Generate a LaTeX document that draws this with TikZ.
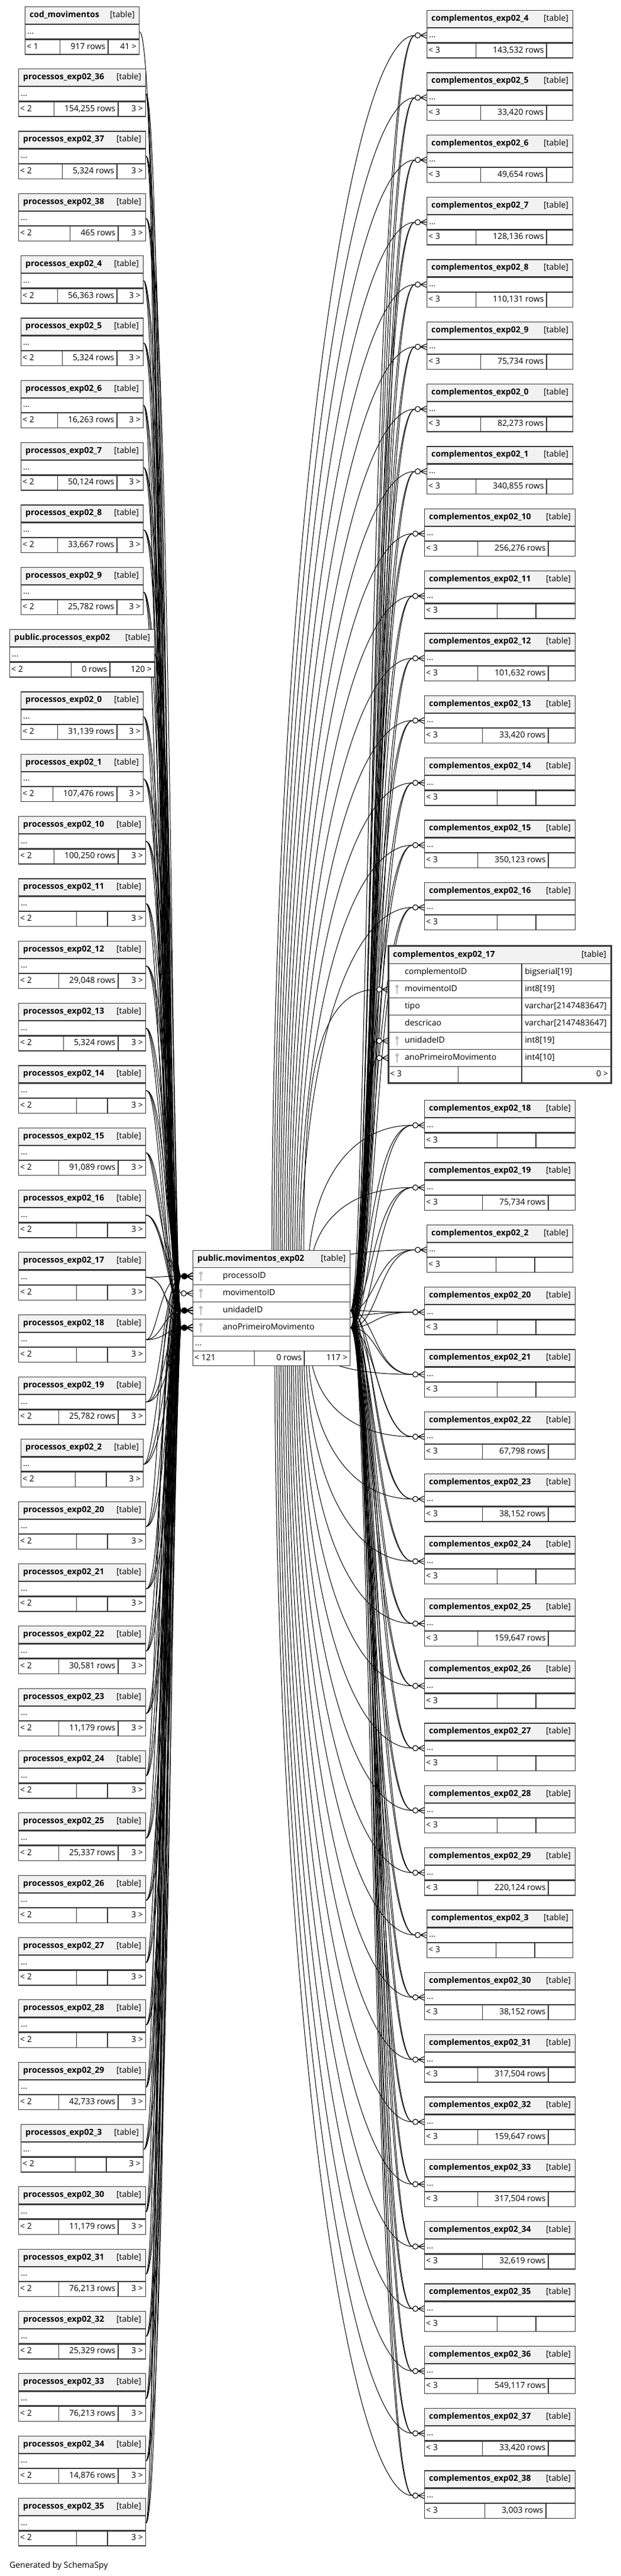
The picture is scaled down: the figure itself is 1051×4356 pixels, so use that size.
\documentclass[tikz,border=0pt]{standalone}
\usepackage{fontspec}
\setmainfont{Open Sans}
\usetikzlibrary{backgrounds}
\definecolor{tabline}{HTML}{3A3A3A}
\definecolor{headgray}{HTML}{F2F2F2}
\definecolor{keygray}{HTML}{BDBDBD}
\newcommand{\midpad}{14pt}
\newcommand{\midmin}{52pt}
\tikzset{%
	tabbox/.style  = {draw=tabline, line width=1.2pt, fill=white, anchor=north west, inner sep=0pt, minimum height=24pt, font=\fontsize{14}{16}\selectfont, text height=10pt, text depth=3pt},
	hdr/.style     = {tabbox, fill=headgray, minimum height=29pt}, % title row
	fcell/.style   = {tabbox, anchor=north east, minimum height=25pt}, % footer cell
	midcell/.style = {fcell, inner xsep=4pt, minimum width=\midmin, execute at begin node={\hspace*{\midpad}}}, % row count
	txt/.style     = {inner sep=0pt, font=\fontsize{14}{16}\selectfont, text height=10pt, text depth=3pt},
	ttl/.style     = {txt, font=\fontsize{14}{16}\selectfont\bfseries},
	rel/.style     = {draw=black, line width=1pt}, % relation
	keyicon/.pic   = {\fill[keygray] (0,-5) circle[radius=3pt]; \draw[keygray, line width=2pt] (0,-5) -- (0,8);},
	crow/.pic      = {\draw[line width=1.1pt] (-10.5,0) -- (0,-5) (-10.5,0) -- (0,0) (-10.5,0) -- (0,5); \draw[line width=1.1pt, fill=white] (-15,0) circle[radius=4.5pt];},
	crowfill/.pic  = {\draw[line width=1.8pt] (-10.5,0) -- (0,-6) (-10.5,0) -- (0,0) (-10.5,0) -- (0,6); \fill (-14,0) circle[radius=5.5pt];},
}
% collapsed table: title, "..." row, footer
\newcommand{\schemaTab}[9]{%
	\node[hdr, minimum width=#4pt] (#1) at (#2,#3) {};
	\node[ttl, anchor=west] (#1-t) at ([xshift=8pt]#1.west) {#5};
	\node[txt, anchor=east] (#1-k) at ([xshift=-8pt]#1.east) {[table]};
	\node[tabbox, minimum width=#4pt] (#1-d) at (#1.south west) {};
	\node[txt, anchor=west] (#1-dt) at ([xshift=4pt]#1-d.west) {...};
	\node[tabbox, minimum width=#4pt, minimum height=25pt] (#1-f) at (#1-d.south west) {};
	\node[txt, anchor=west] (#1-fl) at ([xshift=3pt]#1-f.west) {#7};
	\node[fcell, minimum width=#9pt] (#1-fr) at (#1-f.north east) {};
	\node[txt, anchor=east] (#1-frt) at ([xshift=-5pt]#1-fr.east) {#8};
	\node[midcell] (#1-fm) at (#1-fr.north west) {#6};
}
% three relations from movimentos_exp02 to one complementos table
\newcommand{\compEdges}[3]{%
	\pgfmathsetmacro\rxa{622+mod(7*#2,15)}
	\pgfmathsetmacro\rxb{626+mod(5*#2,13)}
	\pgfmathsetmacro\rxc{\rxa+6}
	\pgfmathsetmacro\rxd{\rxb+5}
	\ifdim#3pt<2200pt
		\def\src{mv-pid}\pgfmathsetmacro\dd{2157.5-#3}\pgfmathsetmacro\cy{2157.5-0.55*\dd}
	\else
		\def\src{mv-dots}\pgfmathsetmacro\dd{abs(#3-2271.5)}\pgfmathsetmacro\cy{2271.5+0.55*(#3-2271.5)}
	\fi
	\pgfmathsetmacro\xs{530-min(\dd,2100)/30}
	\begin{scope}[on background layer]
		\draw[rel] (mv-uid.east) .. controls (\rxa,0 |- mv-uid.east) and (\rxb,0 |- #1-d.west) .. ([xshift=-19.5pt]#1-d.west);
		\draw[rel] (mv-ano.east) .. controls (\rxc,0 |- mv-ano.east) and (\rxd,0 |- #1-d.west) .. ([xshift=-19.5pt]#1-d.west);
		\draw[rel] (\xs,0 |- \src.center) .. controls (\xs,\cy) and (583,0 |- #1-d.west) .. ([xshift=-19.5pt]#1-d.west);
	\end{scope}
	\pic at (#1-d.west) {crow};
}
\begin{document}
\begin{tikzpicture}[x=1pt, y=-1pt]
	\useasboundingbox (0,0) rectangle (1051,4356);

	% central table
	\node[hdr, minimum width=266pt] (mv) at (326,2114) {};
	\node[ttl, anchor=west] (mv-t) at ([xshift=8pt]mv.west) {public.movimentos\_exp02};
	\node[txt, anchor=east] (mv-k) at ([xshift=-8pt]mv.east) {[table]};
	\foreach \r/\lab [count=\k from 0] in {pid/processoID, mid/movimentoID, uid/unidadeID, ano/anoPrimeiroMovimento}{
		\node[tabbox, minimum width=266pt, minimum height=29pt] (mv-\r) at (326,2143+29*\k) {};
		\node[txt, anchor=west] (mv-\r-t) at ([xshift=51pt]mv-\r.west) {\lab};
		\pic at ([xshift=14pt]mv-\r.west) {keyicon};
	}
	\node[tabbox, minimum width=266pt, minimum height=25pt] (mv-dots) at (326,2259) {};
	\node[txt, anchor=west] (mv-dt) at ([xshift=4pt]mv-dots.west) {...};
	\node[tabbox, minimum width=266pt, minimum height=25pt] (mv-f) at (326,2284) {};
	\node[txt, anchor=west] (mv-fl) at ([xshift=3pt]mv-f.west) {< 121};
	\node[fcell, minimum width=77pt] (mv-fr) at (mv-f.north east) {};
	\node[txt, anchor=east] (mv-frt) at ([xshift=-5pt]mv-fr.east) {117 >};
	\node[fcell, minimum width=84pt] (mv-fm) at (mv-fr.north west) {};
	\node[txt, anchor=east] (mv-fmt) at ([xshift=-4pt]mv-fm.east) {0 rows};

	% parents on the left
	\schemaTab{cm}{42}{11}{193}{cod\_movimentos}{917 rows}{< 1}{41 >}{52}
	\begin{scope}[on background layer]
		\draw[rel] (cm-d.east) .. controls (274,0 |- cm-d.east) and (268,0 |- mv-mid.west) .. ([xshift=-19.5pt]mv-mid.west);
	\end{scope}
	\schemaTab{ppub}{16}{1064}{245}{public.processos\_exp02}{0 rows}{< 2}{120 >}{75}
	\begin{scope}[on background layer]
		\draw[rel] (ppub-d.east) .. controls (280,0 |- ppub-d.east) and (272,0 |- mv-pid.west) .. ([xshift=-19.5pt]mv-pid.west);
		\draw[rel] (ppub-d.east) .. controls (286,0 |- ppub-d.east) and (281,0 |- mv-uid.west) .. ([xshift=-19.5pt]mv-uid.west);
		\draw[rel] (ppub-d.east) .. controls (292,0 |- ppub-d.east) and (288,0 |- mv-ano.west) .. ([xshift=-19.5pt]mv-ano.west);
	\end{scope}
	\foreach \s/\n/\xa/\tw/\rws/\rwd in {
		0/36/31/215/{154,255 rows}/46, 1/37/31/215/{5,324 rows}/48, 2/38/31/215/{465 rows}/46,
		3/4/35/207/{56,363 rows}/44, 4/5/35/207/{5,324 rows}/44, 5/6/35/207/{16,263 rows}/44,
		6/7/35/207/{50,124 rows}/44, 7/8/35/207/{33,667 rows}/44, 8/9/35/207/{25,782 rows}/44,
		10/0/35/207/{31,139 rows}/44, 11/1/35/207/{107,476 rows}/44, 12/10/31/215/{100,250 rows}/46,
		13/11/31/215/{}/64, 14/12/31/215/{29,048 rows}/46, 15/13/31/215/{5,324 rows}/46,
		16/14/31/215/{}/64, 17/15/31/215/{91,089 rows}/46, 18/16/31/215/{}/64,
		19/17/31/215/{}/64, 20/18/31/215/{}/64, 21/19/31/215/{25,782 rows}/46,
		22/2/35/207/{}/62, 23/20/31/215/{}/64, 24/21/31/215/{}/64,
		25/22/31/215/{30,581 rows}/46, 26/23/31/215/{11,179 rows}/46, 27/24/31/215/{}/64,
		28/25/31/215/{25,337 rows}/46, 29/26/31/215/{}/64, 30/27/31/215/{}/64,
		31/28/31/215/{}/64, 32/29/31/215/{42,733 rows}/46, 33/3/35/207/{}/62,
		34/30/31/215/{11,179 rows}/46, 35/31/31/215/{76,213 rows}/46, 36/32/31/215/{25,329 rows}/46,
		37/33/31/215/{76,213 rows}/46, 38/34/31/215/{14,876 rows}/46, 39/35/31/215/{}/64}{
		\pgfmathsetmacro\ty{116+105.33*\s}
		\schemaTab{p\n}{\xa}{\ty}{\tw}{processos\_exp02\_\n}{\rws}{< 2}{3 >}{\rwd}
		\pgfmathsetmacro\bxa{262+mod(7*\s,17)}
		\pgfmathsetmacro\bxb{266+mod(5*\s,19)}
		\pgfmathsetmacro\bxc{\bxa+7}
		\pgfmathsetmacro\bxd{\bxb+8}
		\pgfmathsetmacro\bxe{\bxa+13}
		\pgfmathsetmacro\bxf{\bxb+15}
		\begin{scope}[on background layer]
			\draw[rel] (p\n-d.east) .. controls (\bxa,0 |- p\n-d.east) and (\bxb,0 |- mv-pid.west) .. ([xshift=-19.5pt]mv-pid.west);
			\draw[rel] (p\n-d.east) .. controls (\bxc,0 |- p\n-d.east) and (\bxd,0 |- mv-uid.west) .. ([xshift=-19.5pt]mv-uid.west);
			\draw[rel] (p\n-d.east) .. controls (\bxe,0 |- p\n-d.east) and (\bxf,0 |- mv-ano.west) .. ([xshift=-19.5pt]mv-ano.west);
		\end{scope}
	}
	\pic at (mv-pid.west) {crowfill};
	\pic at (mv-uid.west) {crowfill};
	\pic at (mv-ano.west) {crowfill};
	\pic at (mv-mid.west) {crow};

	% children on the right
	\begin{scope}
		\renewcommand{\midpad}{25pt}\renewcommand{\midmin}{65pt}
		\foreach \s/\n/\xa/\tw/\rws/\rwd in {
			0/4/722/247/{143,532 rows}/44, 1/5/722/247/{33,420 rows}/44, 2/6/722/247/{49,654 rows}/44,
			3/7/722/247/{128,136 rows}/44, 4/8/722/247/{110,131 rows}/44, 5/9/722/247/{75,734 rows}/44,
			6/0/722/247/{82,273 rows}/44, 7/1/722/247/{340,855 rows}/44, 8/10/718/255/{256,276 rows}/45,
			9/11/718/255/{}/66, 10/12/718/255/{101,632 rows}/45, 11/13/718/255/{33,420 rows}/45,
			12/14/718/255/{}/66, 13/15/718/255/{350,123 rows}/45, 14/16/718/255/{}/66}{
			\pgfmathsetmacro\ty{17+105.33*\s}
			\pgfmathsetmacro\yd{\ty+41}
			\schemaTab{c\n}{\xa}{\ty}{\tw}{complementos\_exp02\_\n}{\rws}{< 3}{}{\rwd}
			\compEdges{c\n}{\s}{\yd}
		}
		\foreach \s/\n/\xa/\tw/\rws/\rwd in {
			0/18/718/255/{}/66, 1/19/718/255/{75,734 rows}/45, 2/2/722/247/{}/64,
			3/20/718/255/{}/66, 4/21/718/255/{}/66, 5/22/718/255/{67,798 rows}/45,
			6/23/718/255/{38,152 rows}/45, 7/24/718/255/{}/66, 8/25/718/255/{159,647 rows}/45,
			9/26/718/255/{}/66, 10/27/718/255/{}/66, 11/28/718/255/{}/66,
			12/29/718/255/{220,124 rows}/45, 13/3/722/247/{}/64, 14/30/718/255/{38,152 rows}/45,
			15/31/718/255/{317,504 rows}/45, 16/32/718/255/{159,647 rows}/45, 17/33/718/255/{317,504 rows}/45,
			18/34/718/255/{32,619 rows}/45, 19/35/718/255/{}/66, 20/36/718/255/{549,117 rows}/45,
			21/37/718/255/{33,420 rows}/45, 22/38/718/255/{3,003 rows}/49}{
			\pgfmathsetmacro\ty{1860+105.33*\s}
			\pgfmathsetmacro\yd{\ty+41}
			\schemaTab{c\n}{\xa}{\ty}{\tw}{complementos\_exp02\_\n}{\rws}{< 3}{}{\rwd}
			\compEdges{c\n}{\s}{\yd}
		}
	\end{scope}

	% expanded child table
	\node[hdr, minimum width=376pt, minimum height=30pt] (c17) at (657,1599) {};
	\node[ttl, anchor=west] (c17-t) at ([xshift=8pt]c17.west) {complementos\_exp02\_17};
	\node[txt, anchor=east] (c17-k) at ([xshift=-8pt]c17.east) {[table]};
	\foreach \r/\lab/\typ/\key [count=\k from 0] in {r1/complementoID/{bigserial[19]}/0, r2/movimentoID/{int8[19]}/1,
		r3/tipo/{varchar[2147483647]}/0, r4/descricao/{varchar[2147483647]}/0,
		r5/unidadeID/{int8[19]}/1, r6/anoPrimeiroMovimento/{int4[10]}/1}{
		\node[tabbox, minimum width=225pt, minimum height=29pt] (c17-\r) at (657,1629+29*\k) {};
		\node[tabbox, minimum width=151pt, minimum height=29pt] (c17-\r-ty) at (c17-\r.north east) {};
		\node[txt, anchor=west] (c17-\r-t) at ([xshift=28pt]c17-\r.west) {\lab};
		\node[txt, anchor=west] (c17-\r-tt) at ([xshift=5pt]c17-\r-ty.west) {\typ};
		\ifnum\key=1 \pic at ([xshift=15pt]c17-\r.west) {keyicon}; \fi
	}
	\node[tabbox, minimum width=376pt, minimum height=27pt] (c17-f) at (657,1803) {};
	\node[txt, anchor=west] (c17-fl) at ([xshift=3pt]c17-f.west) {< 3};
	\node[fcell, minimum width=150pt, minimum height=27pt] (c17-fr) at (c17-f.north east) {};
	\node[txt, anchor=east] (c17-frt) at ([xshift=-5pt]c17-fr.east) {0 >};
	\node[fcell, minimum width=107pt, minimum height=27pt] (c17-fm) at (c17-fr.north west) {};
	\draw[tabline, line width=3pt] (c17.north west) rectangle (c17-f.south east);
	\begin{scope}[on background layer]
		\draw[rel] (514,0 |- mv-pid.center) .. controls (514,1891) and (518,0 |- c17-r2.west) .. ([xshift=-19.5pt]c17-r2.west);
		\draw[rel] (mv-uid.east) .. controls (628,0 |- mv-uid.east) and (612,0 |- c17-r5.west) .. ([xshift=-19.5pt]c17-r5.west);
		\draw[rel] (mv-ano.east) .. controls (634,0 |- mv-ano.east) and (616,0 |- c17-r6.west) .. ([xshift=-19.5pt]c17-r6.west);
	\end{scope}
	\pic at (c17-r2.west) {crow};
	\pic at (c17-r5.west) {crow};
	\pic at (c17-r6.west) {crow};

	\node[txt, anchor=base west] (gen) at (16,4342) {Generated by SchemaSpy};
\end{tikzpicture}
\end{document}
